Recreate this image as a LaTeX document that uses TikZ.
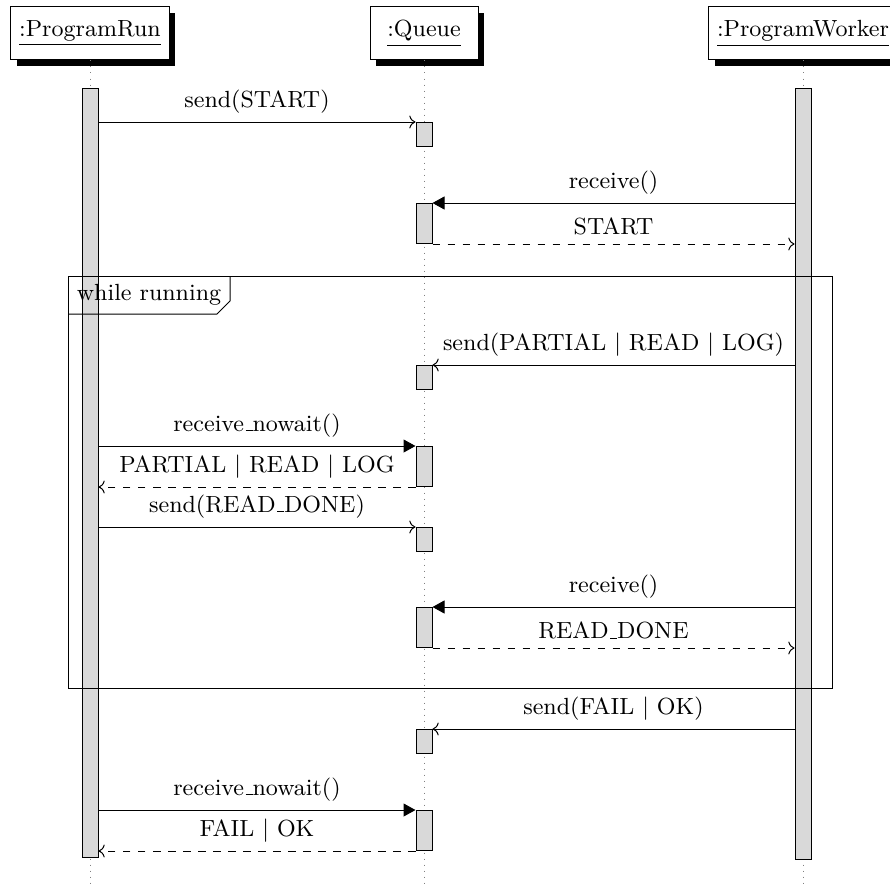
\documentclass[tikz,border=0pt]{standalone}
\usepackage{tikz}
\usetikzlibrary{arrows.meta,shadows}
\newcommand\usc{\leavevmode\kern.06em\vbox{\hrule width.3em}}
\tikzset{
  objbox/.style={draw,fill=white,inner xsep=3.4pt,minimum height=21.2pt,
                 drop shadow={opacity=1,fill=black,shadow xshift=2.4pt,shadow yshift=-2.4pt}},
  actbar/.style={draw,fill=gray!30,inner sep=0pt,minimum width=6.4pt,anchor=north},
  lifeline/.style={dotted,gray},
  call/.style={->},
  sync/.style={-{Triangle[length=4.8pt,width=5.2pt]}},
  reply/.style={dashed,->},
  msg/.style={above,midway},
  framelbl/.style={anchor=north west,inner sep=0pt,minimum width=64.4pt,minimum height=14.8pt},
}
\begin{document}
\begin{tikzpicture}[x=0.4pt,y=-0.4pt,font=\fontsize{9.35}{11.2}\selectfont]
  \useasboundingbox (0,0) rectangle (890,886);
  % objects
  \node[objbox] (run) at (90,33.5) {\underline{:ProgramRun}};
  \node[objbox,minimum width=43.2pt] (queue) at (424,33.5) {\underline{:Queue}};
  \node[objbox] (worker) at (803,33.5) {\underline{:ProgramWorker}};
  \coordinate (runend) at (90,886);
  \coordinate (queueend) at (424,886);
  \coordinate (workerend) at (803,886);
  \draw[lifeline] (run.south) -- (runend);
  \draw[lifeline] (queue.south) -- (queueend);
  \draw[lifeline] (worker.south) -- (workerend);

  % activations
  \node[actbar,minimum height=307.6pt] (runbar) at (90,88) {};
  \node[actbar,minimum height=308.4pt] (workerbar) at (803,88) {};
  \node[actbar,minimum height=9.6pt] (q1) at (424,122) {};
  \node[actbar,minimum height=16pt] (q2) at (424,203) {};
  \node[actbar,minimum height=9.6pt] (q3) at (424,365) {};
  \node[actbar,minimum height=16pt] (q4) at (424,446) {};
  \node[actbar,minimum height=9.6pt] (q5) at (424,527) {};
  \node[actbar,minimum height=16pt] (q6) at (424,607) {};
  \node[actbar,minimum height=9.6pt] (q7) at (424,729) {};
  \node[actbar,minimum height=16pt] (q8) at (424,810) {};

  % loop frame
  \draw (68,276) rectangle (832,688);
  \node[framelbl] (loop) at (68,276) {while running};
  \draw (loop.north east) -- ([yshift=5.2pt]loop.south east)
        -- ([xshift=-5.2pt]loop.south east) -- (loop.south west);

  % messages
  \draw[call] (runbar.east |- q1.north west) -- (q1.north west) node[msg] {send(START)};
  \draw[sync] (workerbar.west |- q2.north east) -- (q2.north east) node[msg] {receive()};
  \draw[reply] (q2.south east) -- (workerbar.west |- q2.south east) node[msg] {START};
  \draw[call] (workerbar.west |- q3.north east) -- (q3.north east) node[msg] {send(PARTIAL | READ | LOG)};
  \draw[sync] (runbar.east |- q4.north west) -- (q4.north west) node[msg] {receive\usc nowait()};
  \draw[reply] (q4.south west) -- (runbar.east |- q4.south west) node[msg] {PARTIAL | READ | LOG};
  \draw[call] (runbar.east |- q5.north west) -- (q5.north west) node[msg] {send(READ\usc DONE)};
  \draw[sync] (workerbar.west |- q6.north east) -- (q6.north east) node[msg] {receive()};
  \draw[reply] (q6.south east) -- (workerbar.west |- q6.south east) node[msg] {READ\usc DONE};
  \draw[call] (workerbar.west |- q7.north east) -- (q7.north east) node[msg] {send(FAIL | OK)};
  \draw[sync] (runbar.east |- q8.north west) -- (q8.north west) node[msg] {receive\usc nowait()};
  \draw[reply] (q8.south west) -- (runbar.east |- q8.south west) node[msg] {FAIL | OK};
\end{tikzpicture}
\end{document}
